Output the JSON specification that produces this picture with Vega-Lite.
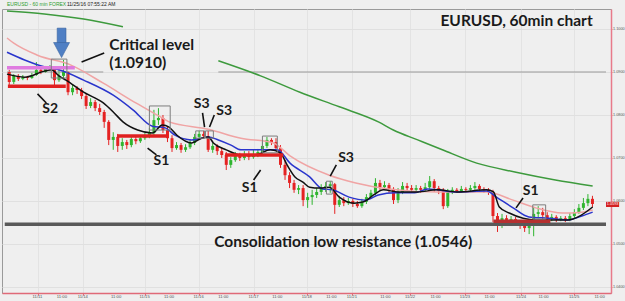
{
"$schema":"https://vega.github.io/schema/vega-lite/v6.json",
"width":609,"height":284,
"autosize":{"type":"none"},
"padding":{"left":2,"top":9,"right":14,"bottom":8},
"background":"#efefef",
"config":{"view":{"stroke":"#9a9a9a"},"font":"Lato"},
"resolve":{"scale":{"color":"independent","strokeWidth":"independent"}},
"datasets":{
"candles":[
{"t":1,"o":1.0900,"h":1.0905,"l":1.0870,"c":1.0877},
{"t":3,"o":1.0877,"h":1.0895,"l":1.0872,"c":1.0891},
{"t":5,"o":1.0891,"h":1.0895,"l":1.0879,"c":1.0884},
{"t":7,"o":1.0884,"h":1.0893,"l":1.0881,"c":1.0888},
{"t":9,"o":1.0888,"h":1.0891,"l":1.0881,"c":1.0886},
{"t":11,"o":1.0886,"h":1.0898,"l":1.0884,"c":1.0893},
{"t":13,"o":1.0893,"h":1.0923,"l":1.0891,"c":1.0905},
{"t":15,"o":1.0905,"h":1.0912,"l":1.0895,"c":1.0900},
{"t":17,"o":1.0900,"h":1.0914,"l":1.0898,"c":1.0907},
{"t":19,"o":1.0907,"h":1.0916,"l":1.0902,"c":1.0909},
{"t":21,"o":1.0909,"h":1.0912,"l":1.0865,"c":1.0881},
{"t":23,"o":1.0881,"h":1.0905,"l":1.0877,"c":1.0891},
{"t":25,"o":1.0891,"h":1.0928,"l":1.0884,"c":1.0900},
{"t":27,"o":1.0900,"h":1.0902,"l":1.0846,"c":1.0853},
{"t":29,"o":1.0853,"h":1.0872,"l":1.0846,"c":1.0863},
{"t":31,"o":1.0863,"h":1.0867,"l":1.0849,"c":1.0858},
{"t":33,"o":1.0858,"h":1.0863,"l":1.0837,"c":1.0844},
{"t":35,"o":1.0844,"h":1.0849,"l":1.0814,"c":1.0821},
{"t":37,"o":1.0821,"h":1.0839,"l":1.0816,"c":1.0830},
{"t":39,"o":1.0830,"h":1.0835,"l":1.0809,"c":1.0816},
{"t":41,"o":1.0816,"h":1.0826,"l":1.0800,"c":1.0807},
{"t":43,"o":1.0807,"h":1.0812,"l":1.0770,"c":1.0784},
{"t":45,"o":1.0784,"h":1.0788,"l":1.0730,"c":1.0742},
{"t":47,"o":1.0742,"h":1.0760,"l":1.0719,"c":1.0749},
{"t":49,"o":1.0749,"h":1.0756,"l":1.0714,"c":1.0728},
{"t":51,"o":1.0728,"h":1.0746,"l":1.0719,"c":1.0737},
{"t":53,"o":1.0737,"h":1.0742,"l":1.0721,"c":1.0730},
{"t":55,"o":1.0730,"h":1.0751,"l":1.0725,"c":1.0744},
{"t":57,"o":1.0744,"h":1.0751,"l":1.0732,"c":1.0739},
{"t":59,"o":1.0739,"h":1.0753,"l":1.0735,"c":1.0746},
{"t":61,"o":1.0746,"h":1.0758,"l":1.0742,"c":1.0751},
{"t":63,"o":1.0751,"h":1.0770,"l":1.0746,"c":1.0758},
{"t":65,"o":1.0758,"h":1.0812,"l":1.0753,"c":1.0788},
{"t":67,"o":1.0788,"h":1.0816,"l":1.0777,"c":1.0793},
{"t":69,"o":1.0793,"h":1.0800,"l":1.0758,"c":1.0765},
{"t":71,"o":1.0765,"h":1.0772,"l":1.0737,"c":1.0746},
{"t":73,"o":1.0746,"h":1.0753,"l":1.0714,"c":1.0723},
{"t":75,"o":1.0723,"h":1.0737,"l":1.0719,"c":1.0730},
{"t":77,"o":1.0730,"h":1.0735,"l":1.0712,"c":1.0719},
{"t":79,"o":1.0719,"h":1.0732,"l":1.0714,"c":1.0725},
{"t":81,"o":1.0725,"h":1.0742,"l":1.0721,"c":1.0735},
{"t":83,"o":1.0735,"h":1.0756,"l":1.0730,"c":1.0749},
{"t":85,"o":1.0749,"h":1.0763,"l":1.0744,"c":1.0756},
{"t":87,"o":1.0756,"h":1.0763,"l":1.0746,"c":1.0751},
{"t":89,"o":1.0751,"h":1.0763,"l":1.0714,"c":1.0719},
{"t":91,"o":1.0719,"h":1.0735,"l":1.0712,"c":1.0728},
{"t":93,"o":1.0728,"h":1.0732,"l":1.0707,"c":1.0716},
{"t":95,"o":1.0716,"h":1.0723,"l":1.0700,"c":1.0707},
{"t":97,"o":1.0707,"h":1.0714,"l":1.0672,"c":1.0684},
{"t":99,"o":1.0684,"h":1.0702,"l":1.0677,"c":1.0695},
{"t":101,"o":1.0695,"h":1.0714,"l":1.0691,"c":1.0705},
{"t":103,"o":1.0705,"h":1.0712,"l":1.0693,"c":1.0700},
{"t":105,"o":1.0700,"h":1.0716,"l":1.0695,"c":1.0709},
{"t":107,"o":1.0709,"h":1.0716,"l":1.0695,"c":1.0702},
{"t":109,"o":1.0702,"h":1.0719,"l":1.0698,"c":1.0707},
{"t":111,"o":1.0707,"h":1.0721,"l":1.0702,"c":1.0714},
{"t":113,"o":1.0714,"h":1.0737,"l":1.0709,"c":1.0728},
{"t":115,"o":1.0728,"h":1.0749,"l":1.0723,"c":1.0742},
{"t":117,"o":1.0742,"h":1.0746,"l":1.0730,"c":1.0737},
{"t":119,"o":1.0737,"h":1.0746,"l":1.0719,"c":1.0723},
{"t":121,"o":1.0723,"h":1.0730,"l":1.0677,"c":1.0684},
{"t":123,"o":1.0684,"h":1.0695,"l":1.0649,"c":1.0660},
{"t":125,"o":1.0660,"h":1.0667,"l":1.0630,"c":1.0642},
{"t":127,"o":1.0642,"h":1.0649,"l":1.0619,"c":1.0626},
{"t":129,"o":1.0626,"h":1.0637,"l":1.0616,"c":1.0630},
{"t":131,"o":1.0630,"h":1.0637,"l":1.0588,"c":1.0602},
{"t":133,"o":1.0602,"h":1.0619,"l":1.0584,"c":1.0609},
{"t":135,"o":1.0609,"h":1.0626,"l":1.0591,"c":1.0614},
{"t":137,"o":1.0614,"h":1.0630,"l":1.0607,"c":1.0621},
{"t":139,"o":1.0621,"h":1.0639,"l":1.0614,"c":1.0630},
{"t":141,"o":1.0630,"h":1.0644,"l":1.0621,"c":1.0635},
{"t":143,"o":1.0635,"h":1.0646,"l":1.0619,"c":1.0639},
{"t":145,"o":1.0639,"h":1.0642,"l":1.0570,"c":1.0591},
{"t":147,"o":1.0591,"h":1.0612,"l":1.0586,"c":1.0602},
{"t":149,"o":1.0602,"h":1.0609,"l":1.0588,"c":1.0595},
{"t":151,"o":1.0595,"h":1.0607,"l":1.0591,"c":1.0600},
{"t":153,"o":1.0600,"h":1.0605,"l":1.0586,"c":1.0593},
{"t":155,"o":1.0593,"h":1.0600,"l":1.0584,"c":1.0588},
{"t":157,"o":1.0588,"h":1.0605,"l":1.0584,"c":1.0598},
{"t":159,"o":1.0598,"h":1.0616,"l":1.0593,"c":1.0609},
{"t":161,"o":1.0609,"h":1.0626,"l":1.0605,"c":1.0619},
{"t":163,"o":1.0619,"h":1.0653,"l":1.0614,"c":1.0642},
{"t":165,"o":1.0642,"h":1.0649,"l":1.0626,"c":1.0632},
{"t":167,"o":1.0632,"h":1.0646,"l":1.0626,"c":1.0637},
{"t":169,"o":1.0637,"h":1.0642,"l":1.0619,"c":1.0628},
{"t":171,"o":1.0628,"h":1.0632,"l":1.0593,"c":1.0602},
{"t":173,"o":1.0602,"h":1.0630,"l":1.0595,"c":1.0621},
{"t":175,"o":1.0621,"h":1.0644,"l":1.0616,"c":1.0635},
{"t":177,"o":1.0635,"h":1.0642,"l":1.0623,"c":1.0630},
{"t":179,"o":1.0630,"h":1.0637,"l":1.0619,"c":1.0626},
{"t":181,"o":1.0626,"h":1.0637,"l":1.0621,"c":1.0630},
{"t":183,"o":1.0630,"h":1.0635,"l":1.0619,"c":1.0626},
{"t":185,"o":1.0626,"h":1.0642,"l":1.0621,"c":1.0632},
{"t":187,"o":1.0632,"h":1.0658,"l":1.0628,"c":1.0646},
{"t":189,"o":1.0646,"h":1.0651,"l":1.0621,"c":1.0630},
{"t":191,"o":1.0630,"h":1.0635,"l":1.0616,"c":1.0623},
{"t":193,"o":1.0623,"h":1.0630,"l":1.0581,"c":1.0588},
{"t":195,"o":1.0588,"h":1.0628,"l":1.0584,"c":1.0621},
{"t":197,"o":1.0621,"h":1.0632,"l":1.0616,"c":1.0626},
{"t":199,"o":1.0626,"h":1.0630,"l":1.0619,"c":1.0623},
{"t":201,"o":1.0623,"h":1.0635,"l":1.0619,"c":1.0628},
{"t":203,"o":1.0628,"h":1.0632,"l":1.0619,"c":1.0626},
{"t":205,"o":1.0626,"h":1.0637,"l":1.0621,"c":1.0630},
{"t":207,"o":1.0630,"h":1.0644,"l":1.0626,"c":1.0635},
{"t":209,"o":1.0635,"h":1.0639,"l":1.0621,"c":1.0628},
{"t":211,"o":1.0628,"h":1.0632,"l":1.0619,"c":1.0626},
{"t":213,"o":1.0626,"h":1.0630,"l":1.0614,"c":1.0621},
{"t":215,"o":1.0621,"h":1.0626,"l":1.0551,"c":1.0565},
{"t":217,"o":1.0565,"h":1.0572,"l":1.0528,"c":1.0542},
{"t":219,"o":1.0542,"h":1.0570,"l":1.0537,"c":1.0560},
{"t":221,"o":1.0560,"h":1.0567,"l":1.0547,"c":1.0556},
{"t":223,"o":1.0556,"h":1.0565,"l":1.0549,"c":1.0558},
{"t":225,"o":1.0558,"h":1.0563,"l":1.0544,"c":1.0551},
{"t":227,"o":1.0551,"h":1.0556,"l":1.0535,"c":1.0542},
{"t":229,"o":1.0542,"h":1.0549,"l":1.0528,"c":1.0537},
{"t":231,"o":1.0537,"h":1.0551,"l":1.0523,"c":1.0542},
{"t":233,"o":1.0542,"h":1.0586,"l":1.0518,"c":1.0570},
{"t":235,"o":1.0570,"h":1.0588,"l":1.0560,"c":1.0574},
{"t":237,"o":1.0574,"h":1.0584,"l":1.0558,"c":1.0567},
{"t":239,"o":1.0567,"h":1.0574,"l":1.0551,"c":1.0560},
{"t":241,"o":1.0560,"h":1.0570,"l":1.0553,"c":1.0563},
{"t":243,"o":1.0563,"h":1.0567,"l":1.0551,"c":1.0558},
{"t":245,"o":1.0558,"h":1.0565,"l":1.0553,"c":1.0560},
{"t":247,"o":1.0560,"h":1.0565,"l":1.0551,"c":1.0558},
{"t":249,"o":1.0558,"h":1.0572,"l":1.0553,"c":1.0565},
{"t":251,"o":1.0565,"h":1.0581,"l":1.0560,"c":1.0574},
{"t":253,"o":1.0574,"h":1.0593,"l":1.0570,"c":1.0584},
{"t":255,"o":1.0584,"h":1.0607,"l":1.0579,"c":1.0595},
{"t":257,"o":1.0595,"h":1.0616,"l":1.0588,"c":1.0605},
{"t":259,"o":1.0605,"h":1.0612,"l":1.0586,"c":1.0593}
],
"ma":[
{"k":"g1","t":0,"p":1.1042},{"k":"g1","t":16.5,"p":1.1035},{"k":"g1","t":33.9,"p":1.1023},{"k":"g1","t":51.3,"p":1.1005},
{"k":"g2","t":93.5,"p":1.0926},{"k":"g2","t":112.2,"p":1.0891},{"k":"g2","t":129.6,"p":1.0853},{"k":"g2","t":147.0,"p":1.0819},{"k":"g2","t":164.3,"p":1.0784},{"k":"g2","t":170.9,"p":1.0765},{"k":"g2","t":181.7,"p":1.0742},{"k":"g2","t":192.6,"p":1.0719},{"k":"g2","t":207.8,"p":1.0688},{"k":"g2","t":225.2,"p":1.0667},{"k":"g2","t":242.6,"p":1.0649},{"k":"g2","t":259.1,"p":1.0635},
{"k":"pink","t":0,"p":1.0979},{"k":"pink","t":3.0,"p":1.0967},{"k":"pink","t":13.5,"p":1.0939},{"k":"pink","t":28.3,"p":1.0916},{"k":"pink","t":42.6,"p":1.0874},{"k":"pink","t":57.0,"p":1.0828},{"k":"pink","t":68.7,"p":1.0793},{"k":"pink","t":71.7,"p":1.0784},{"k":"pink","t":89.1,"p":1.0767},{"k":"pink","t":103.5,"p":1.0746},{"k":"pink","t":117.8,"p":1.0735},{"k":"pink","t":125.2,"p":1.0705},{"k":"pink","t":142.6,"p":1.0660},{"k":"pink","t":154.3,"p":1.0642},{"k":"pink","t":168.7,"p":1.0628},{"k":"pink","t":190.4,"p":1.0621},{"k":"pink","t":212.2,"p":1.0621},{"k":"pink","t":223.9,"p":1.0602},{"k":"pink","t":233.9,"p":1.0584},{"k":"pink","t":245.7,"p":1.0572},{"k":"pink","t":254.3,"p":1.0574},{"k":"pink","t":259.1,"p":1.0579},
{"k":"blue","t":0,"p":1.0946},{"k":"blue","t":7.8,"p":1.0928},{"k":"blue","t":16.5,"p":1.0912},{"k":"blue","t":23.0,"p":1.0905},{"k":"blue","t":33.9,"p":1.0881},{"k":"blue","t":47.0,"p":1.0846},{"k":"blue","t":55.7,"p":1.0812},{"k":"blue","t":64.3,"p":1.0774},{"k":"blue","t":70.0,"p":1.0770},{"k":"blue","t":74.3,"p":1.0753},{"k":"blue","t":81.7,"p":1.0742},{"k":"blue","t":89.1,"p":1.0749},{"k":"blue","t":93.5,"p":1.0742},{"k":"blue","t":99.1,"p":1.0730},{"k":"blue","t":103.5,"p":1.0719},{"k":"blue","t":112.2,"p":1.0719},{"k":"blue","t":119.6,"p":1.0719},{"k":"blue","t":125.2,"p":1.0688},{"k":"blue","t":133.9,"p":1.0656},{"k":"blue","t":139.6,"p":1.0628},{"k":"blue","t":143.9,"p":1.0626},{"k":"blue","t":151.3,"p":1.0609},{"k":"blue","t":158.7,"p":1.0602},{"k":"blue","t":164.3,"p":1.0614},{"k":"blue","t":171.7,"p":1.0619},{"k":"blue","t":180.4,"p":1.0619},{"k":"blue","t":186.1,"p":1.0628},{"k":"blue","t":199.1,"p":1.0621},{"k":"blue","t":212.2,"p":1.0623},{"k":"blue","t":216.5,"p":1.0609},{"k":"blue","t":223.9,"p":1.0584},{"k":"blue","t":230.9,"p":1.0563},{"k":"blue","t":239.6,"p":1.0560},{"k":"blue","t":248.3,"p":1.0556},{"k":"blue","t":254.3,"p":1.0565},{"k":"blue","t":259.1,"p":1.0574},
{"k":"black","t":0,"p":1.0895},{"k":"black","t":7.8,"p":1.0888},{"k":"black","t":16.5,"p":1.0902},{"k":"black","t":19.6,"p":1.0905},{"k":"black","t":23.0,"p":1.0891},{"k":"black","t":26.1,"p":1.0881},{"k":"black","t":33.9,"p":1.0853},{"k":"black","t":42.6,"p":1.0828},{"k":"black","t":47.0,"p":1.0807},{"k":"black","t":51.3,"p":1.0784},{"k":"black","t":57.8,"p":1.0765},{"k":"black","t":64.3,"p":1.0758},{"k":"black","t":68.7,"p":1.0777},{"k":"black","t":71.7,"p":1.0772},{"k":"black","t":75.2,"p":1.0753},{"k":"black","t":81.7,"p":1.0735},{"k":"black","t":86.1,"p":1.0746},{"k":"black","t":89.1,"p":1.0749},{"k":"black","t":91.3,"p":1.0735},{"k":"black","t":97.0,"p":1.0719},{"k":"black","t":103.5,"p":1.0707},{"k":"black","t":110.0,"p":1.0707},{"k":"black","t":116.5,"p":1.0719},{"k":"black","t":120.9,"p":1.0712},{"k":"black","t":123.9,"p":1.0684},{"k":"black","t":127.4,"p":1.0656},{"k":"black","t":130.9,"p":1.0644},{"k":"black","t":133.9,"p":1.0632},{"k":"black","t":138.3,"p":1.0630},{"k":"black","t":142.6,"p":1.0632},{"k":"black","t":147.0,"p":1.0609},{"k":"black","t":153.5,"p":1.0595},{"k":"black","t":157.8,"p":1.0598},{"k":"black","t":162.2,"p":1.0614},{"k":"black","t":166.5,"p":1.0626},{"k":"black","t":173.0,"p":1.0621},{"k":"black","t":181.7,"p":1.0621},{"k":"black","t":190.4,"p":1.0626},{"k":"black","t":199.1,"p":1.0621},{"k":"black","t":212.2,"p":1.0626},{"k":"black","t":215.2,"p":1.0621},{"k":"black","t":217.8,"p":1.0586},{"k":"black","t":222.2,"p":1.0572},{"k":"black","t":228.3,"p":1.0560},{"k":"black","t":233.9,"p":1.0556},{"k":"black","t":242.6,"p":1.0556},{"k":"black","t":248.3,"p":1.0556},{"k":"black","t":252.6,"p":1.0563},{"k":"black","t":259.1,"p":1.0586}
],
"grayLevels":[{"t":0,"t2":42.6,"p":1.09},{"t":93.5,"t2":265,"p":1.09}],
"levels":[
{"k":"cons","t":-1,"t2":265,"p":1.0546},
{"k":"mag","t":0,"t2":30,"p":1.0910},
{"k":"red","t":0.4,"t2":26,"p":1.0867},
{"k":"red","t":48.7,"t2":70.9,"p":1.0751},
{"k":"red","t":96.5,"t2":122.2,"p":1.0707},
{"k":"dred","t":215.2,"t2":240.4,"p":1.0553}
],
"boxes":[
{"t":19.6,"t2":26.5,"p":1.0930,"p2":1.0886},
{"t":63.0,"t2":72.2,"p":1.0821,"p2":1.0765},
{"t":83.5,"t2":87.4,"p":1.0763,"p2":1.0746},
{"t":87.8,"t2":91.3,"p":1.0763,"p2":1.0746},
{"t":113.0,"t2":119.6,"p":1.0751,"p2":1.0712},
{"t":141.3,"t2":143.9,"p":1.0646,"p2":1.0616},
{"t":232.6,"t2":238.3,"p":1.0591,"p2":1.0558}
],
"leaders":[
{"t":33.0,"p":1.0923,"t2":43.0,"p2":1.0944},
{"t":13.5,"p":1.0849,"t2":17.4,"p2":1.0828},
{"t":62.2,"p":1.0723,"t2":66.1,"p2":1.0707},
{"t":86.5,"p":1.0805,"t2":87.4,"p2":1.0772},
{"t":91.7,"p":1.0800,"t2":89.6,"p2":1.0772},
{"t":109.1,"p":1.0649,"t2":112.2,"p2":1.0672},
{"t":143.0,"p":1.0658,"t2":145.7,"p2":1.0684},
{"t":225.2,"p":1.0584,"t2":228.3,"p2":1.0607}
],
"slabels":[
{"txt":"S2","t":19.1,"p":1.0814},
{"txt":"S1","t":68.3,"p":1.0693},
{"txt":"S3","t":86.1,"p":1.0826},
{"txt":"S3","t":96.1,"p":1.0809},
{"txt":"S1","t":107.4,"p":1.0630},
{"txt":"S3","t":150.0,"p":1.0700},
{"txt":"S1","t":231.7,"p":1.0623}
],
"crit":[{"txt":"Critical level","t":45.2,"p":1.0951},{"txt":"(1.0910)","t":45.2,"p":1.0909}],
"cons":[{"txt":"Consolidation low resistance (1.0546)","t":91.7,"p":1.0493}],
"ttl":[{"txt":"EURUSD, 60min chart","t":259.1,"p":1.1007}],
"header":[{"txt":"EURUSD - 60 min FOREX","part":"sym","t":0,"p":1.1058},{"txt":"11/25/16  07:55:22 AM","part":"time","t":26.5,"p":1.1058}],
"xlabels":[
{"lab":"11/11","t":13.5,"p":1.0377},{"lab":"11:00","t":24.3,"p":1.0377},{"lab":"11/14","t":33.5,"p":1.0377},{"lab":"11:00","t":48.3,"p":1.0377},
{"lab":"11/15","t":60.9,"p":1.0377},{"lab":"11:00","t":71.7,"p":1.0377},{"lab":"11/16","t":84.8,"p":1.0377},{"lab":"11:00","t":95.7,"p":1.0377},
{"lab":"11/17","t":109.1,"p":1.0377},{"lab":"11:00","t":119.6,"p":1.0377},{"lab":"11/18","t":132.6,"p":1.0377},{"lab":"11:00","t":143.5,"p":1.0377},
{"lab":"11/21","t":152.6,"p":1.0377},{"lab":"11:00","t":167.4,"p":1.0377},{"lab":"11/22","t":178.3,"p":1.0377},{"lab":"11:00","t":189.6,"p":1.0377},
{"lab":"11/23","t":202.6,"p":1.0377},{"lab":"11:00","t":213.5,"p":1.0377},{"lab":"11/24","t":227.4,"p":1.0377},{"lab":"11:00","t":237.4,"p":1.0377},
{"lab":"11/25","t":250.9,"p":1.0377},{"lab":"11:00","t":262.2,"p":1.0377}
],
"last":[{"t":265,"t2":270.8,"p":1.0598,"p2":1.0586,"tm":267.9,"pm":1.0592,"txt":"1.0593"}],
"shaft":[{"t":22.2,"t2":26.1,"p":1.1002,"p2":1.0967}],
"head":[{"t":24.15,"p":1.0951}]
},
"layer":[
{"data":{"name":"candles"},"mark":{"type":"rule","strokeWidth":1},
"encoding":{
"x":{"field":"t","type":"quantitative","scale":{"domain":[0,265],"nice":false,"zero":false},
"axis":{"orient":"bottom","title":null,"values":[13.5,24.3,33.5,48.3,60.9,71.7,84.8,95.7,109.1,119.6,132.6,143.5,152.6,167.4,178.3,189.6,202.6,213.5,227.4,237.4,250.9,262.2],
"labels":false,"domainColor":"#e06a78","domainWidth":1.5,"tickColor":"#e06a78","tickSize":2,"grid":true,"gridColor":"#e3e3e3"}},
"y":{"field":"l","type":"quantitative","scale":{"domain":[1.0386,1.10465],"nice":false,"zero":false},
"axis":{"orient":"right","title":null,"values":[1.04,1.05,1.06,1.07,1.08,1.09,1.1],"format":".4f","labelFontSize":3.8,"labelColor":"#555","labelFont":"Liberation Sans","labelPadding":0.5,"labelFlush":false,"labelOverlap":false,"domainColor":"#e87a8a","domainWidth":1.5,"tickColor":"#e87a8a","tickSize":1,"grid":true,"gridColor":"#e0e0e0"}},
"y2":{"field":"h"},
"color":{"condition":{"test":"datum.c >= datum.o","value":"#2fb52f"},"value":"#e52222"}}},
{"data":{"name":"grayLevels"},"mark":{"type":"rule","color":"#9c9c9c","strokeWidth":1},
"encoding":{"x":{"field":"t","type":"quantitative","title":null,"scale":{"domain":[0,265],"nice":false,"zero":false}},"x2":{"field":"t2"},
"y":{"field":"p","type":"quantitative","title":null,"scale":{"domain":[1.0386,1.10465],"nice":false,"zero":false}}}},
{"data":{"name":"candles"},"mark":{"type":"bar","size":3},
"encoding":{"x":{"field":"t","type":"quantitative","title":null,"scale":{"domain":[0,265],"nice":false,"zero":false}},
"y":{"field":"o","type":"quantitative","title":null,"scale":{"domain":[1.0386,1.10465],"nice":false,"zero":false}},"y2":{"field":"c"},
"color":{"condition":{"test":"datum.c >= datum.o","value":"#2fb52f"},"value":"#e52222"}}},
{"data":{"name":"ma"},"mark":{"type":"line","interpolate":"monotone"},
"encoding":{"x":{"field":"t","type":"quantitative","title":null,"scale":{"domain":[0,265],"nice":false,"zero":false}},
"y":{"field":"p","type":"quantitative","title":null,"scale":{"domain":[1.0386,1.10465],"nice":false,"zero":false}},
"color":{"field":"k","type":"nominal","scale":{"domain":["g1","g2","pink","blue","black"],"range":["#3d9a3d","#3d9a3d","#f0a4a4","#2a35cc","#111111"]},"legend":null},
"strokeWidth":{"field":"k","type":"nominal","scale":{"domain":["g1","g2","pink","blue","black"],"range":[1.5,1.5,1.2,1.5,1.1]},"legend":null}}},
{"data":{"name":"levels"},"mark":{"type":"rule"},
"encoding":{"x":{"field":"t","type":"quantitative","title":null,"scale":{"domain":[0,265],"nice":false,"zero":false}},"x2":{"field":"t2"},
"y":{"field":"p","type":"quantitative","title":null,"scale":{"domain":[1.0386,1.10465],"nice":false,"zero":false}},
"color":{"field":"k","type":"nominal","scale":{"domain":["cons","mag","red","dred"],"range":["#595959","#df7be0","#e02020","#b53030"]},"legend":null},
"strokeWidth":{"field":"k","type":"nominal","scale":{"domain":["cons","mag","red","dred"],"range":[3.5,3.5,2,3]},"legend":null}}},
{"data":{"name":"boxes"},"mark":{"type":"rect","filled":false,"color":"#7d7d7d","strokeWidth":1},
"encoding":{"x":{"field":"t","type":"quantitative","title":null,"scale":{"domain":[0,265],"nice":false,"zero":false}},"x2":{"field":"t2"},
"y":{"field":"p","type":"quantitative","title":null,"scale":{"domain":[1.0386,1.10465],"nice":false,"zero":false}},"y2":{"field":"p2"}}},
{"data":{"name":"leaders"},"mark":{"type":"rule","color":"#111111","strokeWidth":1.6},
"encoding":{"x":{"field":"t","type":"quantitative","title":null,"scale":{"domain":[0,265],"nice":false,"zero":false}},"x2":{"field":"t2"},
"y":{"field":"p","type":"quantitative","title":null,"scale":{"domain":[1.0386,1.10465],"nice":false,"zero":false}},"y2":{"field":"p2"}}},
{"data":{"name":"slabels"},"mark":{"type":"text","font":"Lato","fontWeight":"bold","fontSize":14,"color":"#1a1a1a","align":"center","baseline":"middle"},
"encoding":{"x":{"field":"t","type":"quantitative","title":null,"scale":{"domain":[0,265],"nice":false,"zero":false}},
"y":{"field":"p","type":"quantitative","title":null,"scale":{"domain":[1.0386,1.10465],"nice":false,"zero":false}},"text":{"field":"txt"}}},
{"data":{"name":"crit"},"mark":{"type":"text","font":"Lato","fontWeight":"bold","fontSize":15.5,"color":"#1a1a1a","align":"left","baseline":"alphabetic"},
"encoding":{"x":{"field":"t","type":"quantitative","title":null,"scale":{"domain":[0,265],"nice":false,"zero":false}},
"y":{"field":"p","type":"quantitative","title":null,"scale":{"domain":[1.0386,1.10465],"nice":false,"zero":false}},"text":{"field":"txt"}}},
{"data":{"name":"cons"},"mark":{"type":"text","font":"Lato","fontWeight":"bold","fontSize":15.5,"color":"#1a1a1a","align":"left","baseline":"alphabetic"},
"encoding":{"x":{"field":"t","type":"quantitative","title":null,"scale":{"domain":[0,265],"nice":false,"zero":false}},
"y":{"field":"p","type":"quantitative","title":null,"scale":{"domain":[1.0386,1.10465],"nice":false,"zero":false}},"text":{"field":"txt"}}},
{"data":{"name":"ttl"},"mark":{"type":"text","font":"Lato","fontWeight":"bold","fontSize":15.5,"color":"#1a1a1a","align":"right","baseline":"alphabetic"},
"encoding":{"x":{"field":"t","type":"quantitative","title":null,"scale":{"domain":[0,265],"nice":false,"zero":false}},
"y":{"field":"p","type":"quantitative","title":null,"scale":{"domain":[1.0386,1.10465],"nice":false,"zero":false}},"text":{"field":"txt"}}},
{"data":{"name":"header"},"mark":{"type":"text","font":"Liberation Sans","fontSize":5,"align":"left","baseline":"middle"},
"encoding":{"x":{"field":"t","type":"quantitative","title":null,"scale":{"domain":[0,265],"nice":false,"zero":false}},
"y":{"field":"p","type":"quantitative","title":null,"scale":{"domain":[1.0386,1.10465],"nice":false,"zero":false}},"text":{"field":"txt"},
"color":{"field":"part","type":"nominal","scale":{"domain":["sym","time"],"range":["#2e9e2e","#222222"]},"legend":null}}},
{"data":{"name":"xlabels"},"mark":{"type":"text","font":"Liberation Sans","fontSize":4.2,"color":"#555555","align":"center","baseline":"middle"},
"encoding":{"x":{"field":"t","type":"quantitative","title":null,"scale":{"domain":[0,265],"nice":false,"zero":false}},
"y":{"field":"p","type":"quantitative","title":null,"scale":{"domain":[1.0386,1.10465],"nice":false,"zero":false}},"text":{"field":"lab"}}},
{"data":{"name":"last"},"mark":{"type":"rect","color":"#d42020"},
"encoding":{"x":{"field":"t","type":"quantitative","title":null,"scale":{"domain":[0,265],"nice":false,"zero":false}},"x2":{"field":"t2"},
"y":{"field":"p","type":"quantitative","title":null,"scale":{"domain":[1.0386,1.10465],"nice":false,"zero":false}},"y2":{"field":"p2"}}},
{"data":{"name":"last"},"mark":{"type":"text","font":"Liberation Sans","fontSize":3.8,"color":"#ffffff","align":"center","baseline":"middle"},
"encoding":{"x":{"field":"tm","type":"quantitative","title":null,"scale":{"domain":[0,265],"nice":false,"zero":false}},
"y":{"field":"pm","type":"quantitative","title":null,"scale":{"domain":[1.0386,1.10465],"nice":false,"zero":false}},"text":{"field":"txt"}}},
{"data":{"name":"shaft"},"mark":{"type":"rect","color":"#4f7fc4","stroke":"#3a64a0","strokeWidth":0.6},
"encoding":{"x":{"field":"t","type":"quantitative","title":null,"scale":{"domain":[0,265],"nice":false,"zero":false}},"x2":{"field":"t2"},
"y":{"field":"p","type":"quantitative","title":null,"scale":{"domain":[1.0386,1.10465],"nice":false,"zero":false}},"y2":{"field":"p2"}}},
{"data":{"name":"head"},"mark":{"type":"point","filled":true,"shape":"M-1,-0.94L1,-0.94L0,0.94Z","size":256,"color":"#4f7fc4","stroke":"#3a64a0","strokeWidth":0.6,"opacity":1},
"encoding":{"x":{"field":"t","type":"quantitative","title":null,"scale":{"domain":[0,265],"nice":false,"zero":false}},
"y":{"field":"p","type":"quantitative","title":null,"scale":{"domain":[1.0386,1.10465],"nice":false,"zero":false}}}}
]
}
